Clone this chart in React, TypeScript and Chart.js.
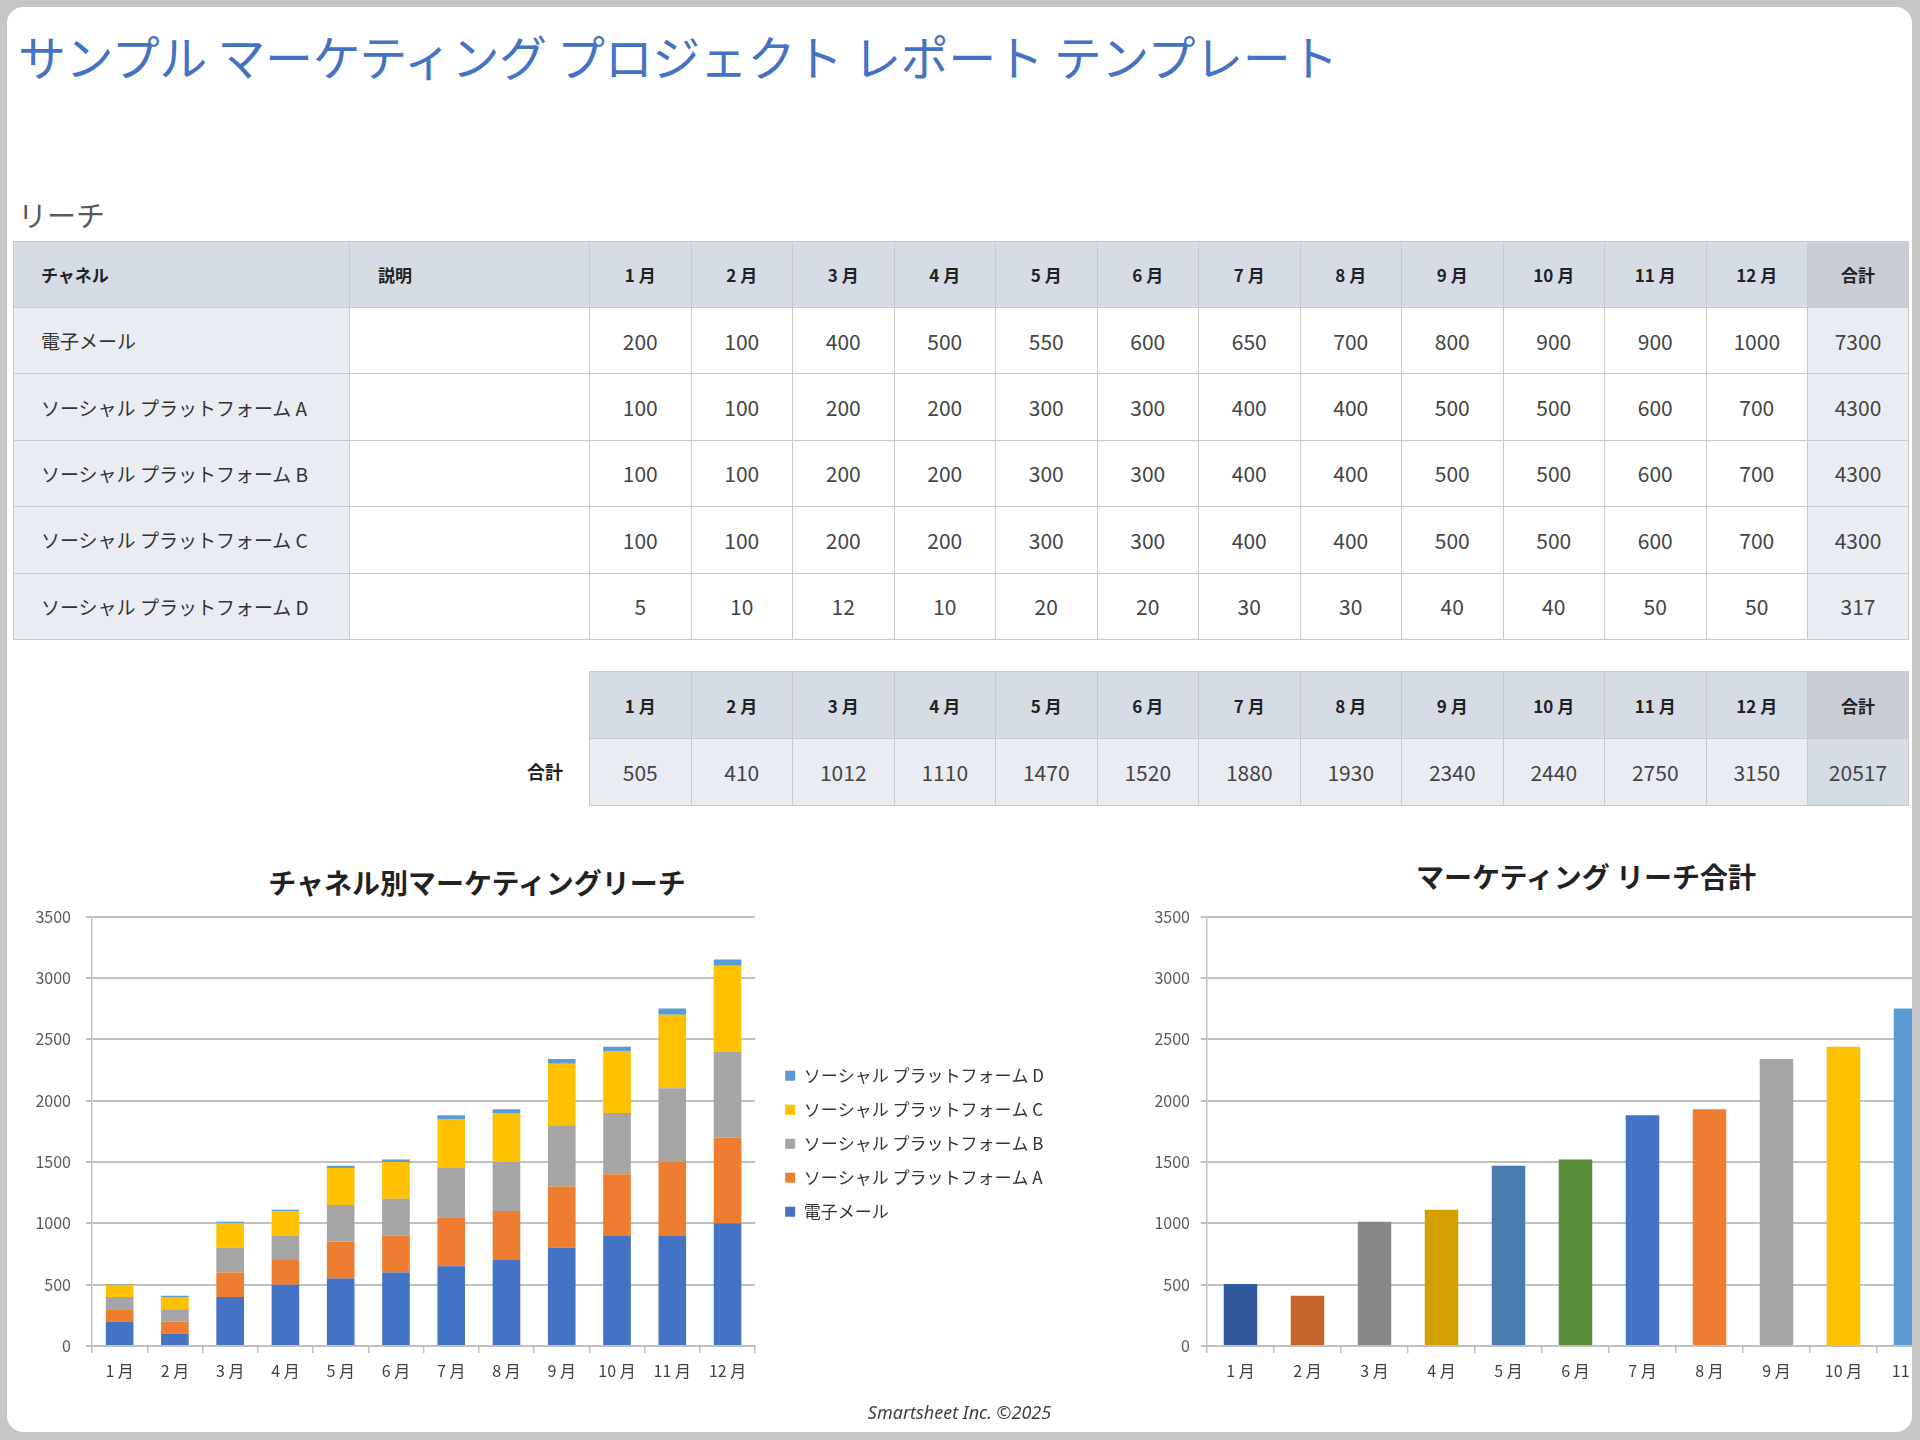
import React, { useEffect, useRef } from "react";
import { Chart, registerables } from "chart.js";

Chart.register(...registerables);

// ---------- data ----------
const months = ["1 月", "2 月", "3 月", "4 月", "5 月", "6 月", "7 月", "8 月", "9 月", "10 月", "11 月", "12 月"];
const channels = [
  "電子メール",
  "ソーシャル プラットフォーム A",
  "ソーシャル プラットフォーム B",
  "ソーシャル プラットフォーム C",
  "ソーシャル プラットフォーム D",
];
const emailReach = [200, 100, 400, 500, 550, 600, 650, 700, 800, 900, 900, 1000];
const platformA = [100, 100, 200, 200, 300, 300, 400, 400, 500, 500, 600, 700];
const platformB = [100, 100, 200, 200, 300, 300, 400, 400, 500, 500, 600, 700];
const platformC = [100, 100, 200, 200, 300, 300, 400, 400, 500, 500, 600, 700];
const platformD = [5, 10, 12, 10, 20, 20, 30, 30, 40, 40, 50, 50];
const channelTotals = [7300, 4300, 4300, 4300, 317];
const monthlyTotals = [505, 410, 1012, 1110, 1470, 1520, 1880, 1930, 2340, 2440, 2750, 3150];
const grandTotal = 20517;
const yMax = 3500;
const yStep = 500;

const stackColors = ["#4472c4", "#ed7d31", "#a5a5a5", "#ffc000", "#5b9bd5"];
const totalBarColors = [
  "#335a9e", "#c4652a", "#888888", "#d4a000", "#4a7eae", "#5a8d3a",
  "#4472c4", "#ed7d31", "#a5a5a5", "#ffc000", "#5b9bd5", "#70ad47",
];

const pageTitle = "サンプル マーケティング プロジェクト レポート テンプレート";
const sectionTitle = "リーチ";
const stackedTitle = "チャネル別マーケティングリーチ";
const totalTitle = "マーケティング リーチ合計";
const headerChannel = "チャネル";
const headerDesc = "説明";
const headerTotal = "合計";
const footerText = "Smartsheet Inc. ©2025";

// ---------- styling ----------
const JP = '"Noto Sans CJK JP", "Noto Sans", sans-serif';
const OFF = 7; // panel offset
const HEAD_BG = "#d6dce4";
const TOTAL_HEAD_BG = "#c9ced6";
const LIGHT_BG = "#e9edf2";
const BORDER = "1px solid #c9c9c9";

const seriesList = [emailReach, platformA, platformB, platformC, platformD];

const plainTick = (v: any) => String(v);

function StackedChart() {
  const ref = useRef<HTMLCanvasElement | null>(null);
  useEffect(() => {
    if (!ref.current) return;
    const chart = new Chart(ref.current, {
      type: "bar",
      data: {
        labels: months,
        datasets: seriesList.map((s, i) => ({
          label: channels[i],
          data: s,
          backgroundColor: stackColors[i],
          borderWidth: 0,
          categoryPercentage: 1,
          barPercentage: 0.5,
        })),
      },
      options: {
        responsive: false,
        animation: false,
        layout: { padding: { top: 10, left: 0, right: 0, bottom: 0 } },
        scales: {
          x: {
            stacked: true,
            grid: { drawOnChartArea: false, drawTicks: true, tickLength: 7, color: "#bfbfbf", lineWidth: 1.5 },
            border: { color: "#bfbfbf", width: 2 },
            ticks: { color: "#404040", font: { family: JP, size: 16 }, padding: 8, maxRotation: 0, autoSkip: false },
            afterFit: (s: any) => { s.height = 54; },
          },
          y: {
            stacked: true,
            min: 0,
            max: yMax,
            ticks: { stepSize: yStep, color: "#595959", font: { family: JP, size: 16 }, padding: 15, callback: plainTick },
            grid: { color: "#c0c0c0", lineWidth: 2, tickLength: 6 },
            border: { color: "#bfbfbf", width: 1.5 },
            afterFit: (s: any) => { s.width = 78; },
          },
          gap: {
            type: "linear",
            position: "right",
            display: true,
            grid: { display: false },
            ticks: { display: false },
            border: { display: false },
            afterFit: (s: any) => { s.width = 13; },
          },
        },
        plugins: {
          tooltip: { enabled: false },
          legend: {
            position: "right",
            fullSize: false,
            reverse: true,
            align: "center",
            maxWidth: 400,
            labels: { boxWidth: 10, boxHeight: 10, padding: 17, color: "#333333", font: { family: JP, size: 17 } },
            title: { display: true, text: "", padding: { top: 24, bottom: 0 }, font: { size: 1, lineHeight: 1 } },
          },
        },
      } as any,
    });
    return () => chart.destroy();
  }, []);
  return (
    <canvas
      ref={ref}
      width={1040}
      height={508}
      style={{ position: "absolute", left: 14 - OFF, top: 892 - OFF, width: 1040, height: 508 }}
    />
  );
}

function TotalChart() {
  const ref = useRef<HTMLCanvasElement | null>(null);
  useEffect(() => {
    if (!ref.current) return;
    const chart = new Chart(ref.current, {
      type: "bar",
      data: {
        labels: months,
        datasets: [
          {
            label: headerTotal,
            data: monthlyTotals,
            backgroundColor: totalBarColors,
            borderWidth: 0,
            categoryPercentage: 1,
            barPercentage: 0.5,
          },
        ],
      },
      options: {
        responsive: false,
        animation: false,
        layout: { padding: { top: 10, left: 0, right: 19, bottom: 0 } },
        scales: {
          x: {
            grid: { drawOnChartArea: false, drawTicks: true, tickLength: 7, color: "#bfbfbf", lineWidth: 1.5 },
            border: { color: "#bfbfbf", width: 2 },
            ticks: { color: "#404040", font: { family: JP, size: 16 }, padding: 8, maxRotation: 0, autoSkip: false },
            afterFit: (s: any) => { s.height = 54; },
          },
          y: {
            min: 0,
            max: yMax,
            ticks: { stepSize: yStep, color: "#595959", font: { family: JP, size: 16 }, padding: 11, callback: plainTick },
            grid: { color: "#c0c0c0", lineWidth: 2, tickLength: 6 },
            border: { color: "#bfbfbf", width: 1.5 },
            afterFit: (s: any) => { s.width = 77; },
          },
        },
        plugins: { tooltip: { enabled: false }, legend: { display: false } },
      } as any,
    });
    return () => chart.destroy();
  }, []);
  return (
    <canvas
      ref={ref}
      width={900}
      height={504}
      style={{ position: "absolute", left: 1130 - OFF, top: 896 - OFF, width: 900, height: 504 }}
    />
  );
}

const headCell: React.CSSProperties = {
  border: BORDER,
  background: HEAD_BG,
  fontWeight: 700,
  fontSize: 17,
  color: "#222",
  textAlign: "center",
  padding: 0,
  fontFamily: JP,
};
const numCell: React.CSSProperties = {
  border: BORDER,
  background: "#ffffff",
  fontSize: 21,
  color: "#444",
  textAlign: "center",
  padding: 0,
  fontFamily: JP,
};

function ReachTable() {
  const monthW = 101.5;
  return (
    <table
      style={{
        position: "absolute",
        left: 13 - OFF,
        top: 241 - OFF,
        borderCollapse: "collapse",
        tableLayout: "fixed",
        width: 336 + 240 + monthW * 12 + 101,
      }}
    >
      <colgroup>
        <col style={{ width: 336 }} />
        <col style={{ width: 240 }} />
        {months.map((m) => (
          <col key={m} style={{ width: monthW }} />
        ))}
        <col style={{ width: 101 }} />
      </colgroup>
      <tbody>
        <tr style={{ height: 66 }}>
          <td style={{ ...headCell, textAlign: "left", paddingLeft: 27 }}>{headerChannel}</td>
          <td style={{ ...headCell, textAlign: "left", paddingLeft: 28 }}>{headerDesc}</td>
          {months.map((m) => (
            <td key={m} style={headCell}>{m}</td>
          ))}
          <td style={{ ...headCell, background: TOTAL_HEAD_BG }}>{headerTotal}</td>
        </tr>
        {channels.map((c, ri) => (
          <tr key={c} style={{ height: 66.4 }}>
            <td style={{ ...numCell, background: LIGHT_BG, textAlign: "left", paddingLeft: 27, fontSize: 19, color: "#333" }}>{c}</td>
            <td style={numCell}></td>
            {seriesList[ri].map((v, i) => (
              <td key={i} style={numCell}>{v}</td>
            ))}
            <td style={{ ...numCell, background: LIGHT_BG }}>{channelTotals[ri]}</td>
          </tr>
        ))}
      </tbody>
    </table>
  );
}

function TotalTable() {
  const monthW = 101.5;
  return (
    <>
      <div
        style={{
          position: "absolute",
          left: 400 - OFF,
          width: 163,
          top: 771 - OFF - 15,
          height: 30,
          lineHeight: "30px",
          textAlign: "right",
          fontFamily: JP,
          fontWeight: 700,
          fontSize: 18,
          color: "#222",
        }}
      >
        {headerTotal}
      </div>
      <table
        style={{
          position: "absolute",
          left: 589 - OFF,
          top: 671 - OFF,
          borderCollapse: "collapse",
          tableLayout: "fixed",
          width: monthW * 12 + 101,
        }}
      >
        <colgroup>
          {months.map((m) => (
            <col key={m} style={{ width: monthW }} />
          ))}
          <col style={{ width: 101 }} />
        </colgroup>
        <tbody>
          <tr style={{ height: 67 }}>
            {months.map((m) => (
              <td key={m} style={headCell}>{m}</td>
            ))}
            <td style={{ ...headCell, background: TOTAL_HEAD_BG }}>{headerTotal}</td>
          </tr>
          <tr style={{ height: 67 }}>
            {monthlyTotals.map((v, i) => (
              <td key={i} style={{ ...numCell, background: LIGHT_BG }}>{v}</td>
            ))}
            <td style={{ ...numCell, background: HEAD_BG }}>{grandTotal}</td>
          </tr>
        </tbody>
      </table>
    </>
  );
}

export default function App() {
  return (
    <div style={{ position: "fixed", left: 0, top: 0, width: 1920, height: 1440, background: "#c6c6c6", overflow: "hidden" }}>
      <div
        style={{
          position: "absolute",
          left: OFF,
          top: OFF,
          width: 1905,
          height: 1425,
          background: "#ffffff",
          borderRadius: 16,
          overflow: "hidden",
        }}
      >
        <div
          style={{
            position: "absolute",
            left: 18 - OFF,
            top: 25 - OFF,
            height: 60,
            lineHeight: "60px",
            fontFamily: JP,
            fontSize: 48,
            letterSpacing: -0.4,
            color: "#4472c4",
            whiteSpace: "nowrap",
          }}
        >
          {pageTitle}
        </div>
        <div
          style={{
            position: "absolute",
            left: 18 - OFF,
            top: 196 - OFF,
            height: 36,
            lineHeight: "36px",
            fontFamily: JP,
            fontSize: 29,
            color: "#595959",
            whiteSpace: "nowrap",
          }}
        >
          {sectionTitle}
        </div>
        <ReachTable />
        <TotalTable />
        <div
          style={{
            position: "absolute",
            left: 477 - OFF - 300,
            width: 600,
            top: 882 - OFF - 20,
            height: 40,
            lineHeight: "40px",
            textAlign: "center",
            fontFamily: JP,
            fontWeight: 700,
            fontSize: 28,
            color: "#222",
          }}
        >
          {stackedTitle}
        </div>
        <div
          style={{
            position: "absolute",
            left: 1586 - OFF - 300,
            width: 600,
            top: 876 - OFF - 20,
            height: 40,
            lineHeight: "40px",
            textAlign: "center",
            fontFamily: JP,
            fontWeight: 700,
            fontSize: 28,
            color: "#222",
          }}
        >
          {totalTitle}
        </div>
        <StackedChart />
        <TotalChart />
        <div
          style={{
            position: "absolute",
            left: 0,
            width: 1905,
            top: 1412 - OFF - 14,
            height: 28,
            lineHeight: "28px",
            textAlign: "center",
            fontFamily: '"Noto Sans", sans-serif',
            fontStyle: "italic",
            fontSize: 18,
            color: "#404040",
          }}
        >
          {footerText}
        </div>
      </div>
    </div>
  );
}
